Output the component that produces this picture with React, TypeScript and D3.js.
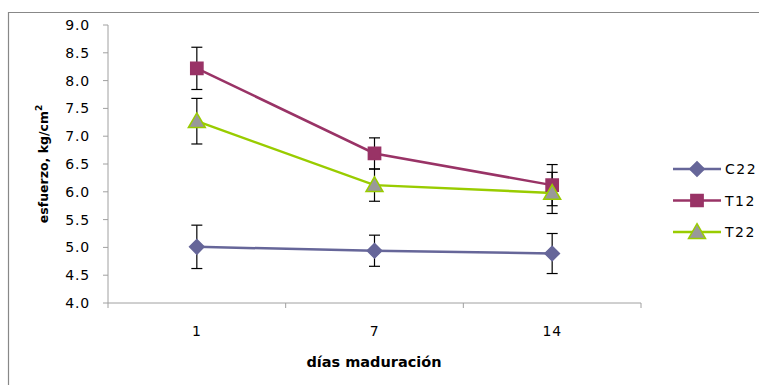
import React from 'react'
import * as d3 from 'd3'

const days = ['1', '7', '14']
const seriesNames = ['C22', 'T12', 'T22']
const c22 = [5.01, 4.94, 4.89]
const c22Err = [0.39, 0.28, 0.36]
const t12 = [8.22, 6.69, 6.12]
const t12Err = [0.38, 0.28, 0.37]
const t22 = [7.27, 6.12, 5.98]
const t22Err = [0.41, 0.29, 0.37]
const yTicks = [4.0, 4.5, 5.0, 5.5, 6.0, 6.5, 7.0, 7.5, 8.0, 8.5, 9.0]

// diamond = square turned 45 degrees
const styles = [
  { line: '#666699', fill: '#666699', stroke: '#666699', shape: d3.symbolSquare, size: 105, rot: 45, dy: 0 },
  { line: '#993366', fill: '#993366', stroke: '#993366', shape: d3.symbolSquare, size: 150, rot: 0, dy: 0 },
  { line: '#99cc00', fill: '#999999', stroke: '#99cc00', shape: d3.symbolTriangle, size: 125, rot: 0, dy: 1.5 },
]

export default function App() {
  const width = 759, height = 385
  const left = 108, right = 641, top = 25, bottom = 303
  const font = '"DejaVu Sans", Verdana, sans-serif'

  const x = d3.scaleBand().domain(days).range([left, right])
  const y = d3.scaleLinear().domain([4, 9]).range([bottom, top])

  const data = [
    { name: seriesNames[0], v: c22, e: c22Err },
    { name: seriesNames[1], v: t12, e: t12Err },
    { name: seriesNames[2], v: t22, e: t22Err },
  ]

  const cx = (d: string) => (x(d) as number) + x.bandwidth() / 2
  const line = d3.line<number>().x((_, i) => cx(days[i])).y(v => y(v))
  const marker = (i: number) => d3.symbol().type(styles[i].shape).size(styles[i].size)() as string

  return (
    <svg width={width} height={height} style={{ position: 'absolute', left: 0, top: 0 }}>
      <rect x={0} y={0} width={width} height={height} fill="#fff" />
      <path d={`M8.5,${height} V12.5 H${width}`} fill="none" stroke="#888" strokeWidth={1.2} />

      {/* y axis */}
      <line x1={left} x2={left} y1={top} y2={bottom} stroke="#a0a0a0" />
      {yTicks.map(t => (
        <g key={t}>
          <line x1={left - 5} x2={left} y1={y(t)} y2={y(t)} stroke="#a0a0a0" />
          <text x={left - 18} y={y(t)} dy="0.36em" textAnchor="end" fontSize={14} letterSpacing={0.8} fontFamily={font} fill="#000">
            {t.toFixed(1)}
          </text>
        </g>
      ))}

      {/* x axis */}
      <line x1={left} x2={right} y1={bottom} y2={bottom} stroke="#a0a0a0" />
      {[left, ...days.map(d => (x(d) as number) + x.bandwidth())].map((p, i) => (
        <line key={i} x1={p} x2={p} y1={bottom} y2={bottom + 5} stroke="#a0a0a0" />
      ))}
      {days.map(d => (
        <text key={d} x={cx(d)} y={336} textAnchor="middle" fontSize={14} letterSpacing={0.8} fontFamily={font} fill="#000">{d}</text>
      ))}

      <text x={374} y={367} textAnchor="middle" fontSize={14.5} fontWeight="bold" fontFamily={font} fill="#000">
        días maduración
      </text>
      <text transform={`translate(48,${(top + bottom) / 2}) rotate(-90)`} textAnchor="middle" fontSize={12.5} fontWeight="bold" fontFamily={font} fill="#000">
        esfuerzo, kg/cm<tspan dy={-6} fontSize={9}>2</tspan>
      </text>

      {/* series lines */}
      {data.map((s, i) => (
        <path key={s.name} d={line(s.v) as string} fill="none" stroke={styles[i].line} strokeWidth={2.5} />
      ))}

      {/* error bars */}
      {data.map(s => s.v.map((v, j) => {
        const px = cx(days[j])
        return (
          <g key={s.name + j} stroke="#000" strokeWidth={1.2}>
            <line x1={px} x2={px} y1={y(v + s.e[j])} y2={y(v - s.e[j])} />
            <line x1={px - 5.5} x2={px + 5.5} y1={y(v + s.e[j])} y2={y(v + s.e[j])} />
            <line x1={px - 5.5} x2={px + 5.5} y1={y(v - s.e[j])} y2={y(v - s.e[j])} />
          </g>
        )
      }))}

      {/* markers */}
      {data.map((s, i) => s.v.map((v, j) => (
        <path key={s.name + 'm' + j}
          d={marker(i)}
          transform={`translate(${cx(days[j])},${y(v) + styles[i].dy}) rotate(${styles[i].rot})`}
          fill={styles[i].fill} stroke={styles[i].stroke} strokeWidth={1.5} />
      )))}

      {/* legend */}
      {data.map((s, i) => {
        const ly = 169 + i * 31.5
        return (
          <g key={s.name + 'leg'}>
            <line x1={673} x2={721} y1={ly} y2={ly} stroke={styles[i].line} strokeWidth={2.5} />
            <path d={marker(i)}
              transform={`translate(697,${ly + styles[i].dy}) rotate(${styles[i].rot})`}
              fill={styles[i].fill} stroke={styles[i].stroke} strokeWidth={1.5} />
            <text x={725} y={ly} dy="0.36em" fontSize={14} letterSpacing={1.5} fontFamily={font} fill="#000">{s.name}</text>
          </g>
        )
      })}
    </svg>
  )
}
